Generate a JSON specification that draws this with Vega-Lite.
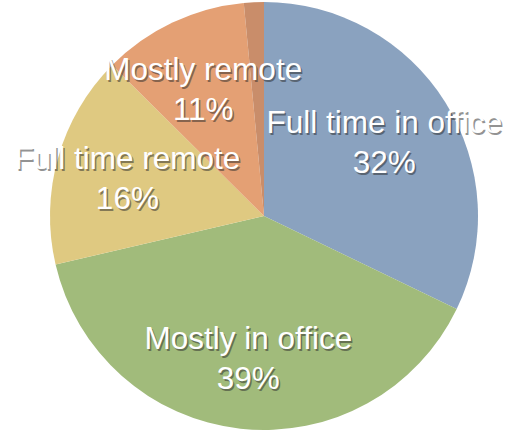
{
  "$schema": "https://vega.github.io/schema/vega-lite/v6.json",
  "autosize": "none",
  "width": 492,
  "height": 432,
  "padding": {"left": 18, "top": 0, "right": 0, "bottom": 0},
  "background": "white",
  "data": {
    "values": [
      {"category": "Full time in office", "value": 32, "label": "Full time in office\n32%", "order": 1},
      {"category": "Mostly in office", "value": 39, "label": "Mostly in office\n39%", "order": 2},
      {"category": "Full time remote", "value": 16, "label": "Full time remote\n16%", "order": 3},
      {"category": "Mostly remote", "value": 11, "label": "Mostly remote\n11%", "order": 4},
      {"category": "Other", "value": 1.5, "label": "", "order": 5}
    ]
  },
  "encoding": {
    "theta": {"field": "value", "type": "quantitative", "stack": true},
    "order": {"field": "order", "type": "quantitative"}
  },
  "layer": [
    {
      "mark": {"type": "arc", "outerRadius": 214},
      "encoding": {
        "color": {
          "field": "category",
          "type": "nominal",
          "scale": {
            "domain": ["Full time in office", "Mostly in office", "Full time remote", "Mostly remote", "Other"],
            "range": ["#8aa2bf", "#a1bb7b", "#dfc981", "#e4a074", "#c98d6a"]
          },
          "legend": null
        }
      }
    },
    {
      "mark": {"type": "text", "radius": 142, "font": "Liberation Sans", "fontSize": 31.5, "lineBreak": "\n", "lineHeight": 40, "align": "center", "baseline": "middle", "fill": "#2a2a2a", "opacity": 0.5, "dx": 1.5, "dy": -15},
      "encoding": {"text": {"field": "label"}}
    },
    {
      "mark": {"type": "text", "radius": 142, "font": "Liberation Sans", "fontSize": 31.5, "lineBreak": "\n", "lineHeight": 40, "align": "center", "baseline": "middle", "fill": "white", "dy": -17},
      "encoding": {"text": {"field": "label"}}
    }
  ],
  "config": {"view": {"stroke": null}}
}
